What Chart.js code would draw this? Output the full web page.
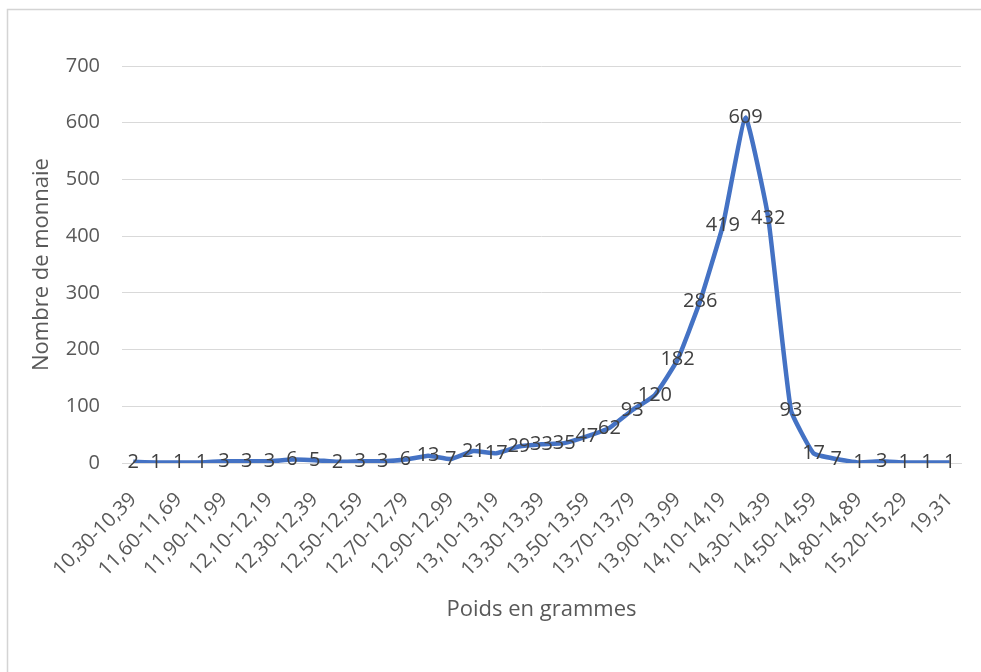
<!DOCTYPE html>
<html>
<head>
<meta charset="utf-8">
<script src="https://cdn.jsdelivr.net/npm/chart.js@4"></script>
<style>
  body { margin: 0; background: #fff; }
</style>
</head>
<body>
<canvas id="chart" width="981" height="672"></canvas>
<script>
// tick labels that are visible on the x axis (every other class)
const tickLabels = [
  "10,30-10,39", "11,60-11,69", "11,90-11,99", "12,10-12,19", "12,30-12,39",
  "12,50-12,59", "12,70-12,79", "12,90-12,99", "13,10-13,19", "13,30-13,39",
  "13,50-13,59", "13,70-13,79", "13,90-13,99", "14,10-14,19", "14,30-14,39",
  "14,50-14,59", "14,80-14,89", "15,20-15,29", "19,31"
];

// number of coins per weight class
const counts = [
  2, 1, 1, 1, 3, 3, 3, 6, 5, 2, 3, 3, 6, 13, 7,
  21, 17, 29, 33, 35, 47, 62, 93, 120, 182, 286, 419,
  609, 432, 93, 17, 7, 1, 3, 1, 1, 1
];

const yTicks = [0, 100, 200, 300, 400, 500, 600, 700];

// one category per count, only the even ones carry a printed label
const categories = counts.map((v, i) => (i % 2 === 0 ? tickLabels[i / 2] : ""));

const FONT = "'Open Sans', 'DejaVu Sans', sans-serif";
const TEXT = "#595959";
const GRID = "#d9d9d9";

// light frame round the chart, like the Excel chart area
const framePlugin = {
  id: "frame",
  beforeDraw(chart) {
    const ctx = chart.ctx;
    ctx.save();
    ctx.strokeStyle = "#d4d4d4";
    ctx.lineWidth = 1.5;
    ctx.beginPath();
    ctx.moveTo(7.5, chart.height);
    ctx.lineTo(7.5, 9.5);
    ctx.lineTo(chart.width, 9.5);
    ctx.stroke();
    ctx.restore();
  }
};

// value printed on top of every point
const valueLabels = {
  id: "valueLabels",
  afterDatasetsDraw(chart) {
    const ctx = chart.ctx;
    const meta = chart.getDatasetMeta(0);
    ctx.save();
    ctx.font = "20px " + FONT;
    ctx.fillStyle = "#404040";
    ctx.textAlign = "center";
    ctx.textBaseline = "middle";
    meta.data.forEach((pt, i) => {
      ctx.fillText(String(counts[i]), pt.x, pt.y);
    });
    ctx.restore();
  }
};

new Chart(document.getElementById("chart"), {
  type: "line",
  data: {
    labels: categories,
    datasets: [{
      data: counts,
      borderColor: "#4472c4",
      borderWidth: 4.5,
      pointRadius: 0,
      tension: 0.12,
      fill: false
    }]
  },
  options: {
    responsive: false,
    animation: false,
    layout: {
      padding: { top: 66, right: 20, bottom: 45, left: 25 }
    },
    plugins: {
      legend: { display: false },
      tooltip: { enabled: false }
    },
    scales: {
      x: {
        offset: true,
        grid: { display: false, drawTicks: false },
        border: { display: true, color: GRID, width: 1 },
        ticks: {
          autoSkip: false,
          minRotation: 45,
          maxRotation: 45,
          padding: 25,
          color: TEXT,
          font: { family: FONT, size: 20 }
        },
        title: {
          display: true,
          text: "Poids en grammes",
          color: TEXT,
          font: { family: FONT, size: 22 }
        },
        afterFit(scale) {
          scale.height = 164;
          // labels end at their tick, no extra room needed on the right
          scale.paddingRight = 0;
          scale.paddingLeft = 0;
        }
      },
      y: {
        min: 0,
        max: 700,
        grid: { color: GRID, lineWidth: 1, drawTicks: false },
        border: { display: false },
        afterBuildTicks(scale) {
          scale.ticks = yTicks.map(v => ({ value: v }));
        },
        ticks: {
          padding: 22,
          color: TEXT,
          font: { family: FONT, size: 20 }
        },
        title: {
          display: true,
          text: "Nombre de monnaie",
          color: TEXT,
          font: { family: FONT, size: 22 }
        },
        afterFit(scale) {
          scale.width = 97;
        }
      }
    }
  },
  plugins: [framePlugin, valueLabels]
});
</script>
</body>
</html>
